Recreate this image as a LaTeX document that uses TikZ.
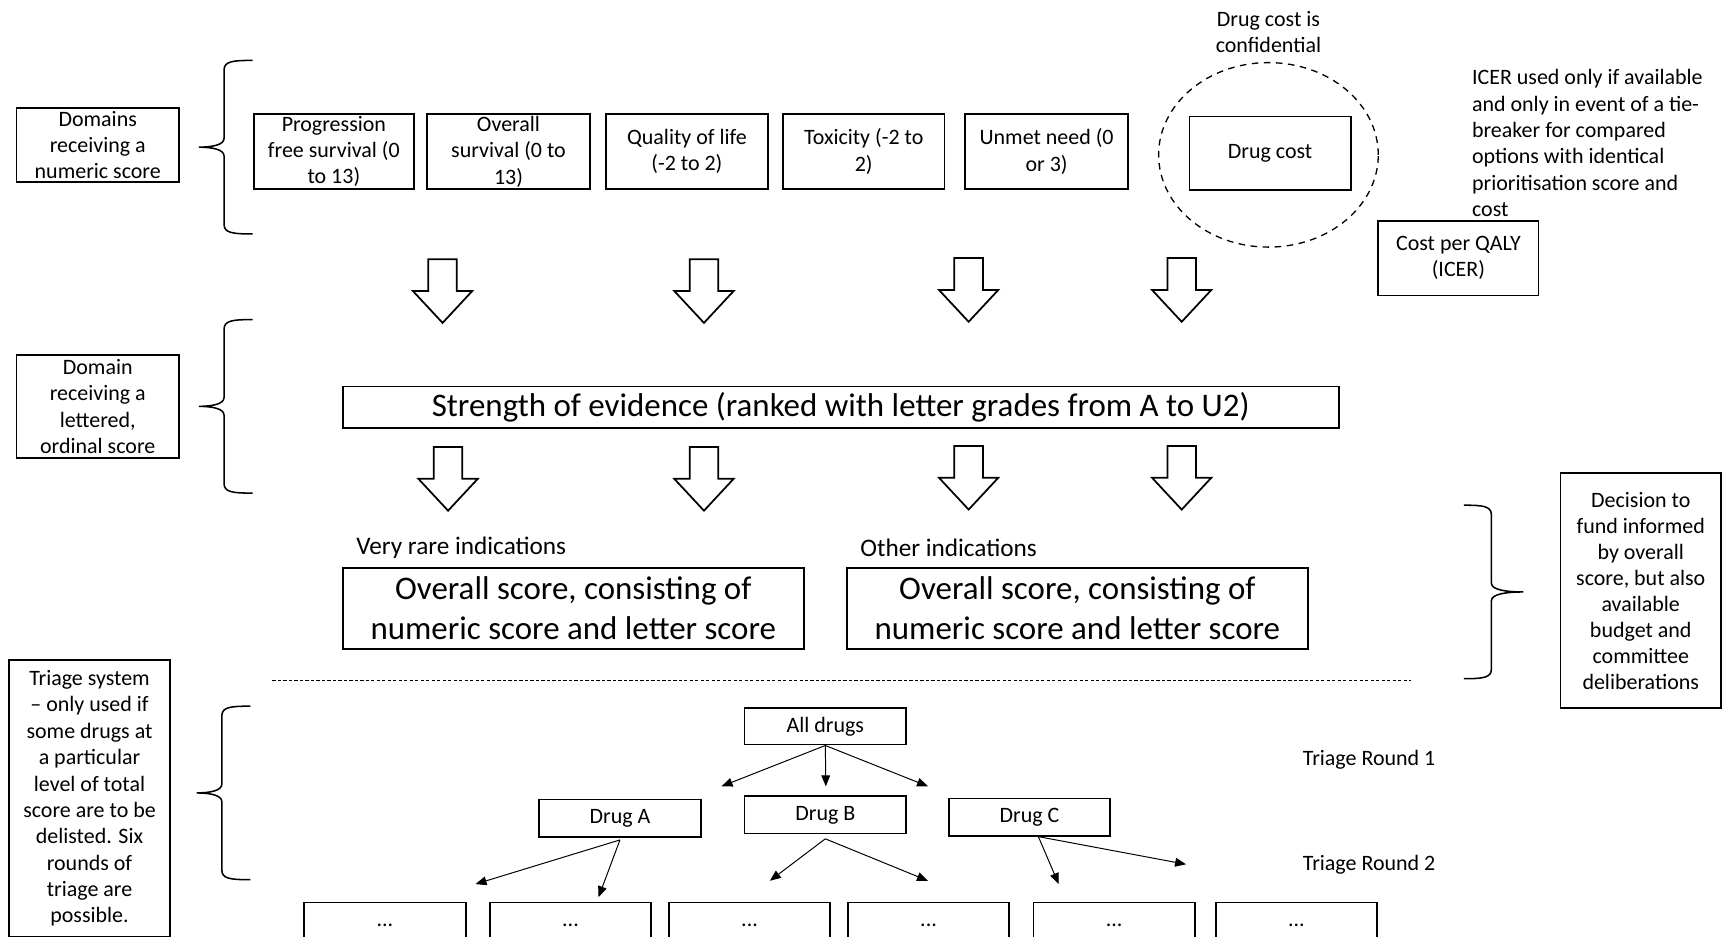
\documentclass[tikz,border=0pt]{standalone}
\usepackage{fontspec}
\setmainfont{Carlito}
\usetikzlibrary{arrows.meta,shapes.geometric}
\begin{document}
\begin{tikzpicture}[x=0.5pt,y=-0.5pt,
  box/.style={draw, line width=0.8pt, inner sep=0pt, align=center, font=\fontsize{10}{12}\selectfont},
  bigbox/.style={draw, line width=0.8pt, inner sep=0pt, align=center, font=\fontsize{15}{18}\selectfont},
  tbox/.style={draw, line width=0.8pt, inner sep=0pt, align=center, font=\fontsize{10}{12}\selectfont, minimum width=73.5pt},
  txt/.style={inner sep=0pt, font=\fontsize{10}{12}\selectfont},
  mtxt/.style={inner sep=0pt, font=\fontsize{11.5}{14}\selectfont},
  stxt/.style={inner sep=0pt, font=\fontsize{10}{12}\selectfont},
  tarrow/.style={-{Triangle[length=5pt,width=4pt]}, line width=0.45pt},
  blockarr/.pic={\draw[line width=0.8pt, fill=white] (-13,0) -- (13,0) -- (13,29) -- (27,29) -- (0,58) -- (-27,29) -- (-13,29) -- cycle;},
  lbrace/.pic={\draw[line width=0.7pt] (49,-79) .. controls (30,-79) and (23,-78) .. (23,-70) -- (23,-8) .. controls (23,-2) and (12,0) .. (0,0) .. controls (12,0) and (23,2) .. (23,8) -- (23,70) .. controls (23,78) and (30,79) .. (49,79);},
  rbrace/.pic={\draw[line width=0.7pt] (-54,-79) .. controls (-36,-79) and (-29,-78) .. (-29,-70) -- (-29,-8) .. controls (-29,-2) and (-16,0) .. (0,0) .. controls (-16,0) and (-29,2) .. (-29,8) -- (-29,70) .. controls (-29,78) and (-36,79) .. (-54,79);}
]
\useasboundingbox (0,0) rectangle (1568,853);

% left explanation boxes
\node[box, minimum width=74pt, minimum height=34pt] (dom1) at (89,132) {Domains\\receiving a\\numeric score};
\node[box, minimum width=74pt, minimum height=47pt] (dom2) at (89,370) {Domain\\receiving a\\lettered,\\ordinal score};
\node[box, minimum width=73.5pt, minimum height=126pt] (triage) at (81.5,727) {Triage system\\– only used if\\some drugs at\\a particular\\level of total\\score are to be\\delisted. Six\\rounds of\\triage are\\possible.};

% braces
\pic at (181,134) {lbrace};
\pic at (181,370) {lbrace};
\pic at (179,722) {lbrace};
\pic at (1387,539) {rbrace};

% top row
\node[box, minimum width=73pt, minimum height=34pt] (pfs) at (304,138) {\raisebox{-2pt}{\parbox{73pt}{\centering Progression\\free survival (0\\to 13)}}};
\node[box, minimum width=74pt, minimum height=34pt] (os) at (463,138) {\raisebox{-2pt}{\parbox{74pt}{\centering Overall\\survival (0 to\\13)}}};
\node[box, minimum width=73.5pt, minimum height=34pt] (qol) at (625.5,138) {\raisebox{-1pt}{\parbox{73pt}{\centering Quality of life\\(-2 to 2)}}};
\node[box, minimum width=73.5pt, minimum height=34pt] (tox) at (786.5,138) {\raisebox{-1pt}{\parbox{73pt}{\centering Toxicity (-2 to\\2)}}};
\node[box, minimum width=74pt, minimum height=34pt] (unmet) at (953,138) {\raisebox{-1pt}{\parbox{73pt}{\centering Unmet need (0\\or 3)}}};
\node[box, minimum width=73.5pt, minimum height=33.5pt] (dcost) at (1156.5,139.5) {\raisebox{-1pt}{Drug cost}};
\node[draw, ellipse, dashed, dash pattern=on 3pt off 2.5pt, line width=0.6pt, minimum width=100pt, minimum height=84pt, inner sep=0pt] (conf) at (1155,141) {};
\node[txt, align=center] (conftxt) at (1155,29) {Drug cost is\\confidential};
\node[txt, align=left, anchor=north west] (icertxt) at (1340,63) {ICER used only if available\\and only in event of a tie-\\breaker for compared\\options with identical\\prioritisation score and\\cost};
\node[box, minimum width=73pt, minimum height=34pt] (qaly) at (1328,235) {\raisebox{-1pt}{\parbox{73pt}{\centering Cost per QALY\\(ICER)}}};

% block arrows
\pic at (403,236) {blockarr};
\pic at (641,236) {blockarr};
\pic at (882,235) {blockarr};
\pic at (1076,235) {blockarr};
\pic at (408,407) {blockarr};
\pic at (641,407) {blockarr};
\pic at (882,406) {blockarr};
\pic at (1076,406) {blockarr};

% strength of evidence
\node[bigbox, minimum width=453.5pt, minimum height=19pt] (soe) at (765.5,371) {\raisebox{-1pt}{Strength of evidence (ranked with letter grades from A to U2)}};

% overall scores
\node[mtxt, anchor=west] (vr) at (324,499) {Very rare indications};
\node[mtxt, anchor=west] (oi) at (783,499) {Other indications};
\node[bigbox, minimum width=210pt, minimum height=37pt] (os1) at (522,554) {Overall score, consisting of\\numeric score and letter score};
\node[bigbox, minimum width=210pt, minimum height=37pt] (os2) at (981,554) {Overall score, consisting of\\numeric score and letter score};

% decision box
\node[box, minimum width=73pt, minimum height=107pt, font=\fontsize{10}{11.85}\selectfont] (dec) at (1494,538) {Decision to\\fund informed\\by overall\\score, but also\\available\\budget and\\committee\\deliberations};

% separator
\draw[dash pattern=on 1.5pt off 1pt, line width=0.4pt] (248,620) -- (1285,620);

% triage tree
\node[tbox, minimum height=16.5pt] (all) at (751.5,661.5) {All drugs};
\node[tbox, minimum height=17pt] (drA) at (564.5,745) {Drug A};
\node[tbox, minimum height=17pt] (drB) at (751.5,742) {Drug B};
\node[tbox, minimum height=17pt] (drC) at (937.5,744) {Drug C};
\node[stxt, anchor=west] (r1) at (1186,692) {Triage Round 1};
\node[stxt, anchor=west] (r2) at (1186,787) {Triage Round 2};

\coordinate (a1) at (657,716);
\coordinate (a2) at (752,716);
\coordinate (a3) at (845,716);
\coordinate (b1) at (433,805);
\coordinate (b2) at (545,817);
\coordinate (c1) at (701,802);
\coordinate (c2) at (845,802);
\coordinate (d1) at (964,805);
\coordinate (d2) at (1080,787);

\draw[tarrow] (all.south) -- (a1);
\draw[tarrow] (all.south) -- (a2);
\draw[tarrow] (all.south) -- (a3);
\draw[tarrow] ([yshift=-1pt]drA.south) -- (b1);
\draw[tarrow] ([yshift=-1pt]drA.south) -- (b2);
\draw[tarrow] ([yshift=-2pt]drB.south) -- (c1);
\draw[tarrow] ([yshift=-2pt]drB.south) -- (c2);
\draw[tarrow] ([xshift=4pt]drC.south) -- (d1);
\draw[tarrow] ([xshift=4pt]drC.south) -- (d2);

% bottom boxes
\foreach \n/\x in {e1/350.5, e2/519.5, e3/682.5, e4/845.5, e5/1014.5, e6/1180.5} {
  \node[tbox, anchor=north, text height=11pt, text depth=20pt] (\n) at (\x,821) {...};
}
\end{tikzpicture}
\end{document}
